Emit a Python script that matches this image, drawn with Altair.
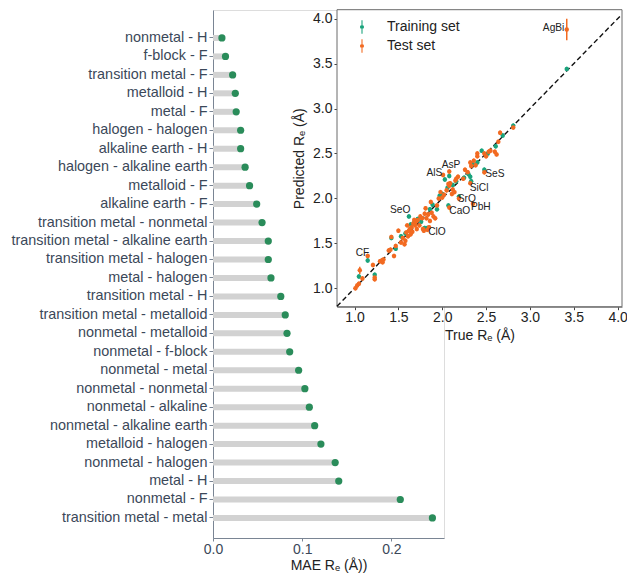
import altair as alt
import pandas as pd

# ---------------- main lollipop data ----------------
categories = [
    "nonmetal - H", "f-block - F", "transition metal - F", "metalloid - H",
    "metal - F", "halogen - halogen", "alkaline earth - H",
    "halogen - alkaline earth", "metalloid - F", "alkaline earth - F",
    "transition metal - nonmetal", "transition metal - alkaline earth",
    "transition metal - halogen", "metal - halogen", "transition metal - H",
    "transition metal - metalloid", "nonmetal - metalloid", "nonmetal - f-block",
    "nonmetal - metal", "nonmetal - nonmetal", "nonmetal - alkaline",
    "nonmetal - alkaline earth", "metalloid - halogen", "nonmetal - halogen",
    "metal - H", "nonmetal - F", "transition metal - metal",
]
mae = [
    0.010, 0.014, 0.022, 0.025, 0.026, 0.031, 0.031, 0.036, 0.041, 0.049,
    0.055, 0.062, 0.062, 0.065, 0.076, 0.081, 0.083, 0.086, 0.096, 0.103,
    0.108, 0.114, 0.121, 0.137, 0.141, 0.210, 0.246,
]

# ---------------- inset parity data ----------------
train_true = [1.05, 1.15, 1.23, 1.42, 1.47, 1.53, 1.58, 1.62, 1.64, 1.68, 1.72,
              1.76, 1.80, 1.83, 1.86, 1.89, 1.94, 1.97, 2.00, 2.03, 2.06, 2.07,
              2.08, 2.12, 2.16, 2.19, 2.25, 2.30, 2.32, 2.33, 2.35, 2.40, 2.45,
              2.48, 2.52, 2.61, 2.69, 2.81, 3.42]
train_pred = [1.13, 1.31, 1.15, 1.56, 1.44, 1.58, 1.61, 1.80, 1.71, 1.73, 1.77,
              1.74, 1.67, 1.67, 1.88, 1.93, 1.88, 2.03, 2.05, 2.21, 2.12, 1.92,
              2.25, 2.15, 2.19, 2.02, 2.23, 2.27, 2.24, 2.19, 2.38, 2.40, 2.53,
              2.32, 2.50, 2.58, 2.70, 2.81, 3.44]
test_true = [1.01, 1.03, 1.05, 1.06, 1.09, 1.15, 1.21, 1.23, 1.23, 1.29, 1.31,
             1.32, 1.33, 1.39, 1.41, 1.42, 1.45, 1.47, 1.50, 1.53, 1.55, 1.57,
             1.58, 1.59, 1.60, 1.61, 1.62, 1.63, 1.64, 1.65, 1.66, 1.67, 1.68,
             1.69, 1.70, 1.71, 1.72, 1.74, 1.75, 1.77, 1.78, 1.79, 1.80, 1.81,
             1.82, 1.83, 1.84, 1.85, 1.86, 1.87, 1.88, 1.90, 1.92, 1.94, 1.96,
             1.98, 2.00, 2.01, 2.02, 2.05, 2.07, 2.08, 2.08, 2.08, 2.09, 2.11,
             2.12, 2.14, 2.15, 2.16, 2.18, 2.19, 2.24, 2.26, 2.29, 2.32, 2.32,
             2.33, 2.35, 2.36, 2.38, 2.40, 2.40, 2.48, 2.48, 2.50, 2.53, 2.55,
             2.60, 2.62, 2.64, 2.66, 2.81, 3.42]
test_pred = [1.00, 1.03, 1.05, 1.20, 1.11, 1.36, 1.26, 1.12, 1.10, 1.30, 1.31,
             1.29, 1.32, 1.42, 1.43, 1.57, 1.36, 1.47, 1.64, 1.51, 1.56, 1.49,
             1.53, 1.62, 1.70, 1.58, 1.64, 1.66, 1.60, 1.68, 1.63, 1.72, 1.76,
             1.70, 1.74, 1.66, 1.76, 1.70, 1.80, 1.78, 1.66, 1.64, 1.83, 1.89,
             1.78, 1.65, 1.82, 1.68, 1.75, 1.96, 1.84, 1.80, 1.78, 1.92, 2.00,
             2.07, 2.01, 2.26, 2.04, 2.09, 2.16, 2.14, 2.30, 1.90, 2.17, 2.05,
             2.10, 2.07, 2.20, 2.22, 2.24, 2.00, 2.22, 2.32, 2.29, 2.40, 2.17,
             2.36, 1.94, 2.42, 2.37, 2.50, 2.47, 2.50, 2.29, 2.47, 2.52, 2.53,
             2.52, 2.49, 2.63, 2.73, 2.79, 3.88]
train_err = [0.025] * len(train_true)
test_err = [0.025] * len(test_true)
test_err[3] = 0.04
test_err[-1] = 0.12

label_names = ["AgBi", "AlS", "AsP", "SeS", "SiCl", "SrO", "CaO", "PbH", "SeO", "ClO", "CF"]
label_x = [3.27, 1.91, 2.10, 2.60, 2.42, 2.28, 2.20, 2.44, 1.52, 1.94, 1.09]
label_y = [3.90, 2.28, 2.37, 2.27, 2.12, 1.995, 1.86, 1.90, 1.87, 1.63, 1.39]

inset_x_domain = [0.80, 4.05]
inset_y_domain = [0.795, 4.10]
inset_ticks = [1.0, 1.5, 2.0, 2.5, 3.0, 3.5, 4.0]
set_names = ["Training set", "Test set"]
set_colors = ["#1aa37c", "#f26a21"]

FONT = "Liberation Sans"
W, H = 231, 528

# ---------------- tables ----------------
main_df = pd.DataFrame({"category": categories, "mae": mae})

pts = pd.DataFrame({
    "true": train_true + test_true,
    "pred": train_pred + test_pred,
    "err": train_err + test_err,
    "set": [set_names[0]] * len(train_true) + [set_names[1]] * len(test_true),
})
pts["lo"] = pts["pred"] - pts["err"]
pts["hi"] = pts["pred"] + pts["err"]

labels_df = pd.DataFrame({"name": label_names, "x": label_x, "y": label_y})
frame_df = pd.DataFrame({"x0": [inset_x_domain[0]], "x1": [inset_x_domain[1]],
                         "y0": [inset_y_domain[0]], "y1": [inset_y_domain[1]]})
diag_df = pd.DataFrame({"v": [inset_x_domain[0], inset_x_domain[1]]})

# ---------------- main chart ----------------
ys = alt.Scale(paddingInner=0, paddingOuter=0.80, align=0.634)
yax = alt.Axis(title=None, labelFontSize=14.4, labelColor="#3b4859", labelFont=FONT,
               tickSize=4, tickColor="#7a8594", domainColor="#7a8594",
               labelPadding=2, labelLimit=400, grid=False)
xs_main = alt.Scale(domain=[0, 0.259], nice=False, zero=True)
xax_main = alt.Axis(values=[0, 0.1, 0.2], format=".1f", title="MAE Rₑ (Å))",
                    titleFontSize=14, titleFontWeight="normal", titleColor="#222222",
                    titleFont=FONT, titlePadding=2,
                    labelFontSize=14, labelColor="#3b4859", labelFont=FONT,
                    labelFlush=False,
                    tickSize=3, tickColor="#7a8594", domainColor="#7a8594",
                    labelPadding=1, grid=False)

bars = alt.Chart(main_df).mark_bar(color="#d2d2d2", size=6).encode(
    x=alt.X("mae:Q", scale=xs_main, axis=xax_main),
    y=alt.Y("category:N", sort=categories, scale=ys, axis=yax),
)
dots = alt.Chart(main_df).mark_circle(color="#2a8c5a", size=52, opacity=1).encode(
    x=alt.X("mae:Q", scale=xs_main, axis=xax_main),
    y=alt.Y("category:N", sort=categories, scale=ys, axis=yax),
)
main = alt.layer(bars, dots)

# ---------------- inset ----------------
X0, X1 = 124, 409          # pixel range of inset x (plot coords)
Y0, Y1 = 296.7, -0.3       # pixel range of inset y
xs_in = alt.Scale(domain=inset_x_domain, range=[X0, X1], nice=False, zero=False)
ys_in = alt.Scale(domain=inset_y_domain, range=[Y0, Y1], nice=False, zero=False)
xax_in = alt.Axis(orient="bottom", offset=Y0 - H, values=inset_ticks, format=".1f",
                  title="True Rₑ (Å)", titleFontSize=14, titleFontWeight="normal",
                  titleColor="#222222", titleFont=FONT, titlePadding=4,
                  labelFontSize=14, labelColor="#222222", labelFont=FONT,
                  labelFlush=False,
                  tickSize=3, tickColor="#444444", domainColor="#666666",
                  labelPadding=1, grid=False)
yax_in = alt.Axis(orient="left", offset=-X0, values=inset_ticks, format=".1f",
                  title="Predicted Rₑ (Å)", titleFontSize=14, titleFontWeight="normal",
                  titleColor="#222222", titleFont=FONT, titlePadding=6,
                  labelFontSize=14, labelColor="#222222", labelFont=FONT,
                  labelFlush=False,
                  tickSize=3, tickColor="#444444", domainColor="#666666",
                  labelPadding=2, grid=False)

frame = alt.Chart(frame_df).mark_rect(fill="white", stroke="#6b6b6b", strokeWidth=1).encode(
    x=alt.X("x0:Q", scale=xs_in, axis=xax_in),
    x2="x1:Q",
    y=alt.Y("y0:Q", scale=ys_in, axis=yax_in),
    y2="y1:Q",
)
diag = alt.Chart(diag_df).mark_line(color="#111111", strokeDash=[5, 3], strokeWidth=1.4).encode(
    x=alt.X("v:Q", scale=xs_in, axis=xax_in),
    y=alt.Y("v:Q", scale=ys_in, axis=yax_in),
)


def err_layer(name, col):
    return alt.Chart(pts).transform_filter(alt.datum.set == name).mark_rule(
        strokeWidth=1.5, color=col
    ).encode(
        x=alt.X("true:Q", scale=xs_in, axis=xax_in),
        y=alt.Y("lo:Q", scale=ys_in, axis=yax_in),
        y2="hi:Q",
    )


errs_train = err_layer(set_names[0], set_colors[0])
errs_test = err_layer(set_names[1], set_colors[1])

sym = ("M-0.3,0A0.3,0.3,0,1,0,0.3,0A0.3,0.3,0,1,0,-0.3,0Z"
       "M-0.08,-1H0.08V-0.25H-0.08Z"
       "M-0.08,0.25H0.08V1H-0.08Z")
points = alt.Chart(pts).mark_point(filled=True, size=20, opacity=1, strokeWidth=0).encode(
    x=alt.X("true:Q", scale=xs_in, axis=xax_in),
    y=alt.Y("pred:Q", scale=ys_in, axis=yax_in),
    color=alt.Color("set:N", scale=alt.Scale(domain=set_names, range=set_colors),
                    legend=alt.Legend(title=None, orient="none", legendX=142, legendY=10,
                                      symbolType=sym, symbolSize=180, symbolStrokeWidth=0,
                                      labelFontSize=14, labelFont=FONT, labelColor="#222222",
                                      labelOffset=18, rowPadding=5, padding=0)),
)
texts = alt.Chart(labels_df).mark_text(fontSize=10.2, font=FONT, color="#222222").encode(
    x=alt.X("x:Q", scale=xs_in, axis=xax_in),
    y=alt.Y("y:Q", scale=ys_in, axis=yax_in),
    text="name:N",
)
inset = alt.layer(frame, diag, errs_train, errs_test, points, texts)

chart = alt.layer(main, inset).resolve_scale(
    x="independent", y="independent"
).properties(
    width=W, height=H,
    padding={"left": 205, "top": 2, "right": 183, "bottom": 36},
    autosize=alt.AutoSizeParams(type="none"),
).configure_view(stroke=None).configure(background="white")

chart.save("out.html", embed_options={"renderer": "svg", "actions": False})
